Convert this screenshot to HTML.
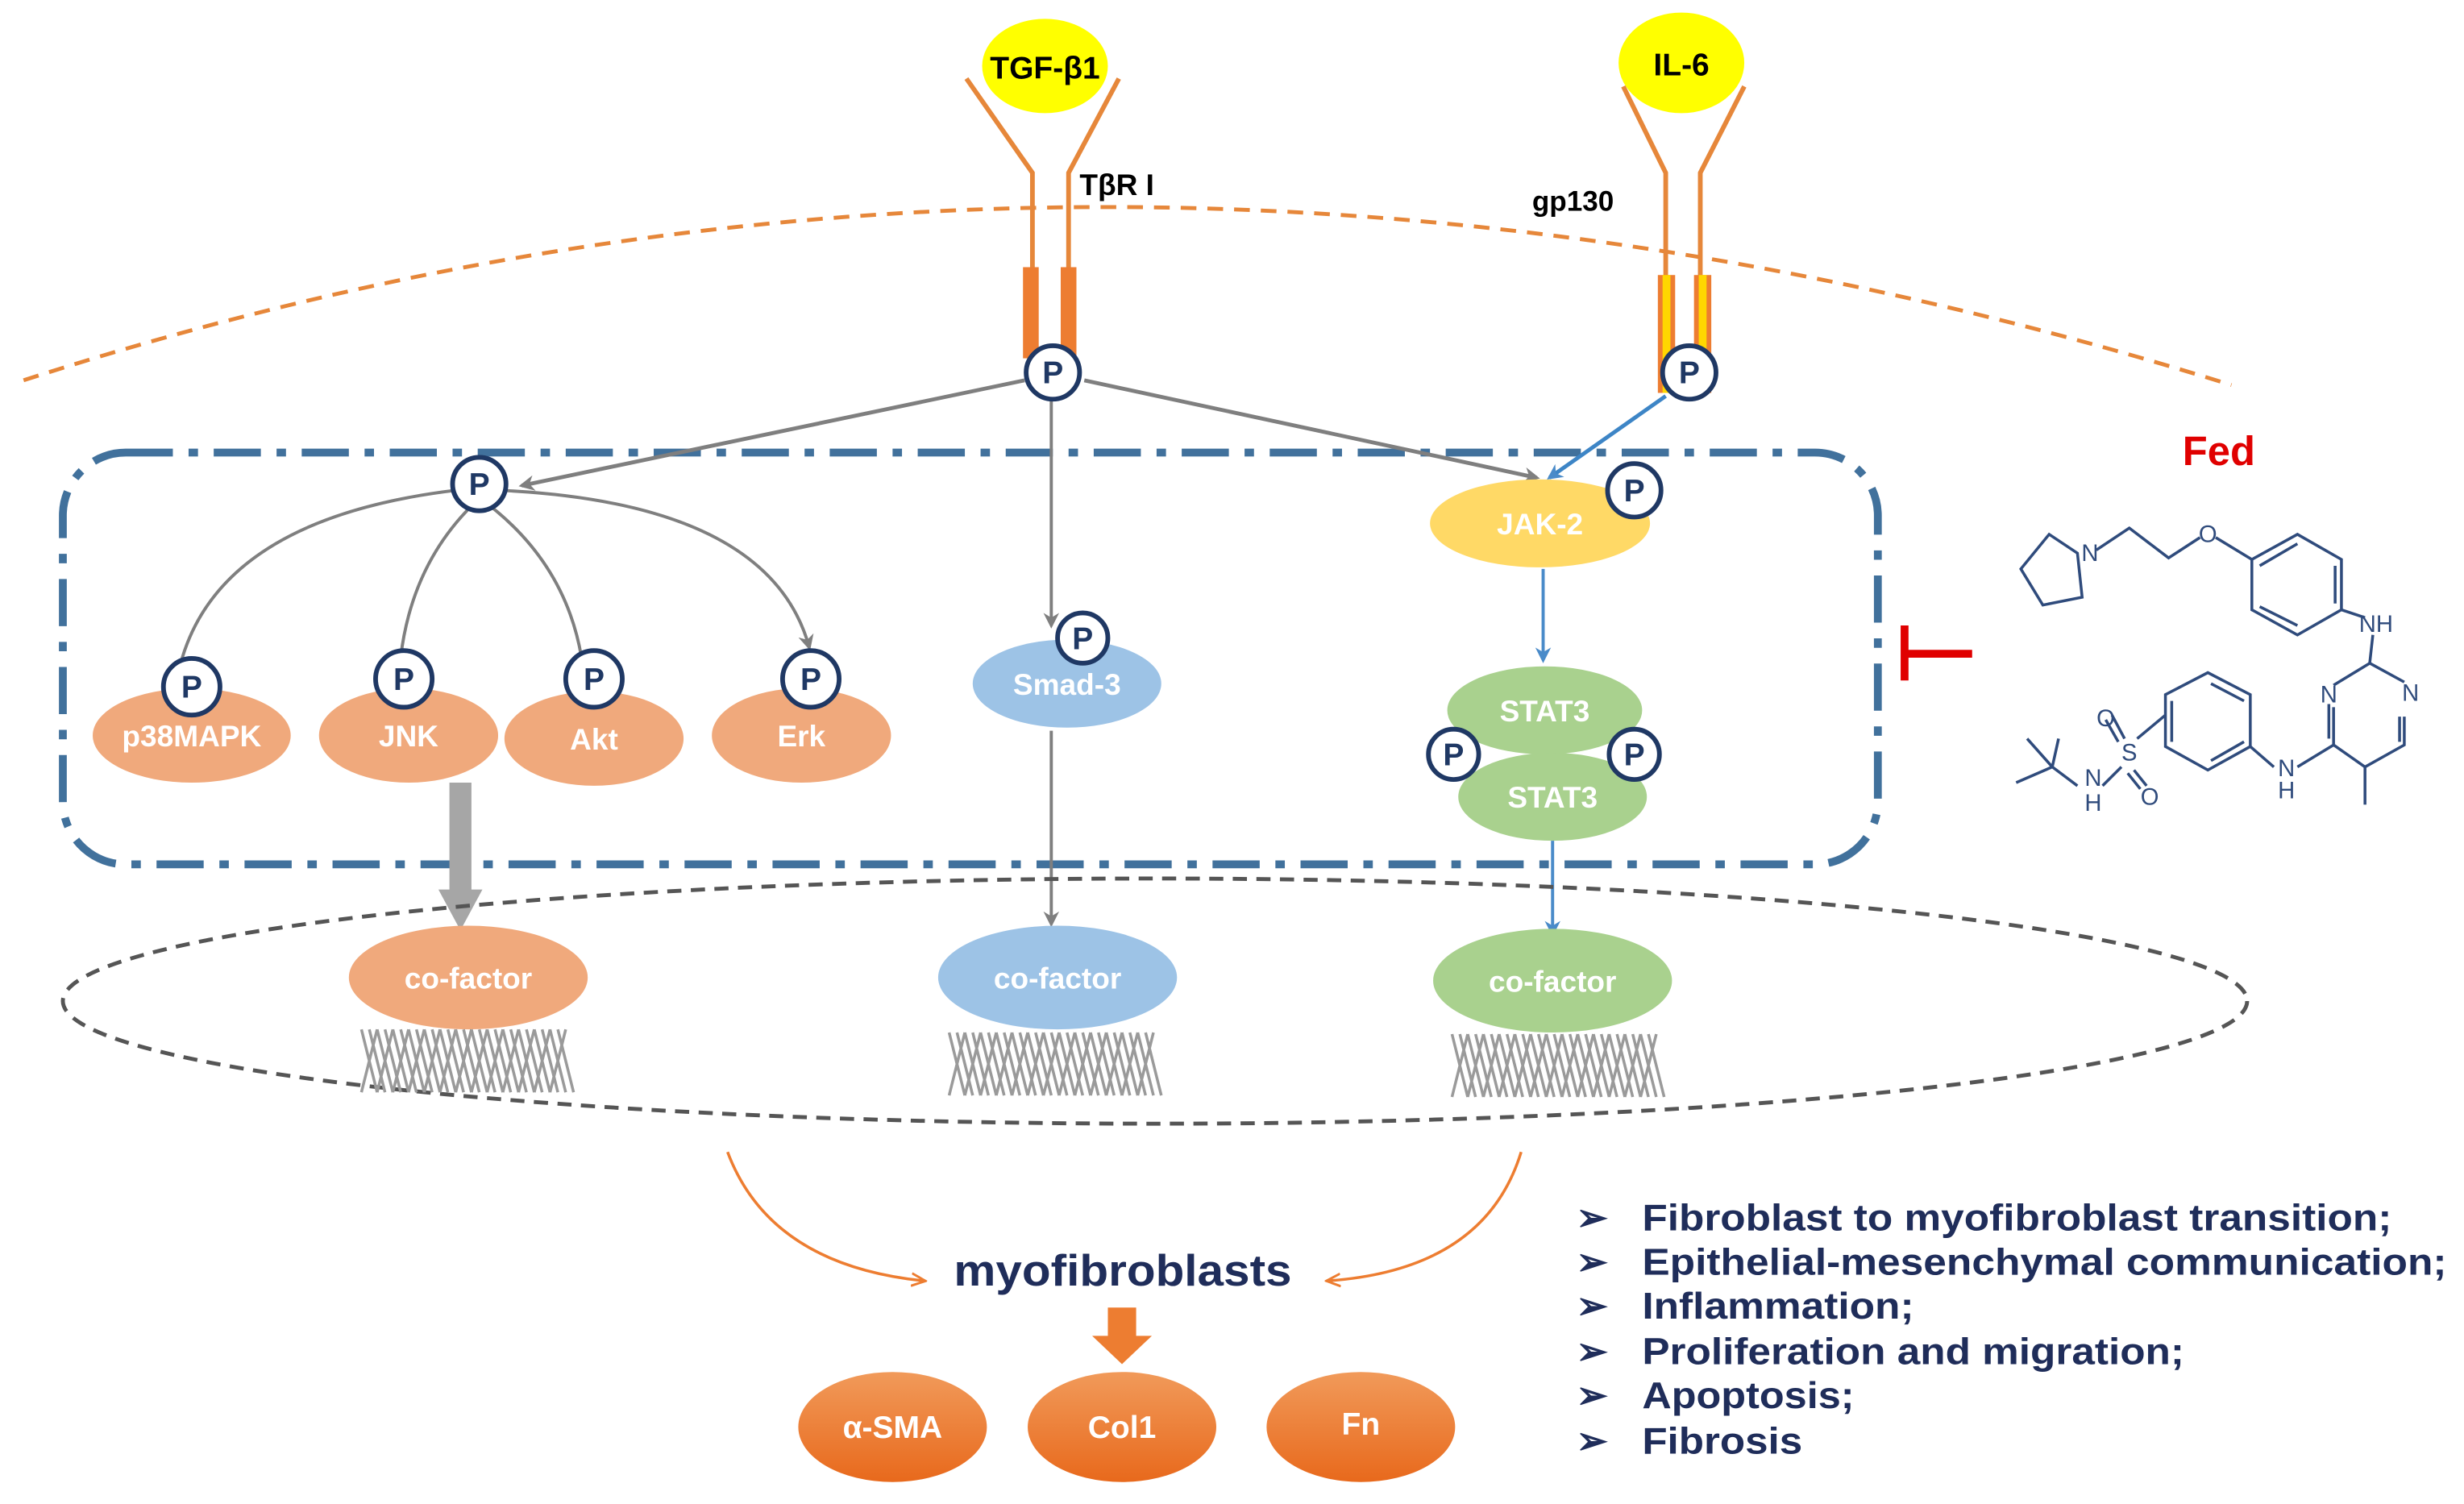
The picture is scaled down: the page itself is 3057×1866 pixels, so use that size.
<!DOCTYPE html>
<html><head><meta charset="utf-8"><style>
html,body{margin:0;padding:0;background:#fff;}
svg{display:block;}
text{font-family:"Liberation Sans",sans-serif;}
</style></head><body>
<svg width="3057" height="1866" viewBox="0 0 1568 957" preserveAspectRatio="none" xmlns="http://www.w3.org/2000/svg">
<defs>
<marker id="ag" markerWidth="10" markerHeight="10" refX="8" refY="5" orient="auto" markerUnits="userSpaceOnUse"><path d="M0,0 L10,5 L0,10 L3,5 z" fill="#7f7f7f"/></marker>
<marker id="ab" markerWidth="10" markerHeight="10" refX="8" refY="5" orient="auto" markerUnits="userSpaceOnUse"><path d="M0,0 L10,5 L0,10 L3,5 z" fill="#4a8bc9"/></marker>
<marker id="ao" markerWidth="10" markerHeight="10" refX="8" refY="5" orient="auto" markerUnits="userSpaceOnUse"><path d="M0,1 L9,5 L0,9" fill="none" stroke="#ed7d31" stroke-width="1.5"/></marker>
<linearGradient id="og" x1="0" y1="0" x2="0" y2="1"><stop offset="0" stop-color="#f19a5a"/><stop offset="1" stop-color="#e8691c"/></linearGradient>
<g id="dna"><path d="M0,0 q5,20 10,40 M5,0 q5,20 10,40 M10,0 q5,20 10,40 M15,0 q5,20 10,40 M20,0 q5,20 10,40 M25,0 q5,20 10,40 M30,0 q5,20 10,40 M35,0 q5,20 10,40 M40,0 q5,20 10,40 M45,0 q5,20 10,40 M50,0 q5,20 10,40 M55,0 q5,20 10,40 M60,0 q5,20 10,40 M65,0 q5,20 10,40 M70,0 q5,20 10,40 M75,0 q5,20 10,40 M80,0 q5,20 10,40 M85,0 q5,20 10,40 M90,0 q5,20 10,40 M95,0 q5,20 10,40 M100,0 q5,20 10,40 M105,0 q5,20 10,40 M110,0 q5,20 10,40 M115,0 q5,20 10,40 M120,0 q5,20 10,40 M125,0 q5,20 10,40 M10,0 q-5,20 -10,40 M20,0 q-5,20 -10,40 M30,0 q-5,20 -10,40 M40,0 q-5,20 -10,40 M50,0 q-5,20 -10,40 M60,0 q-5,20 -10,40 M70,0 q-5,20 -10,40 M80,0 q-5,20 -10,40 M90,0 q-5,20 -10,40 M100,0 q-5,20 -10,40 M110,0 q-5,20 -10,40 M120,0 q-5,20 -10,40 M130,0 q-5,20 -10,40" stroke="#9a9a9a" stroke-width="1.8" fill="none"/></g>
</defs>

<!-- membrane -->
<path d="M15,242 Q700,20 1420,245" fill="none" stroke="#e6873a" stroke-width="2.5" stroke-dasharray="10 7"/>

<!-- ligands -->
<ellipse cx="665" cy="42" rx="40" ry="30" fill="#ffff00"/>
<text x="665" y="50" font-size="20" font-weight="bold" text-anchor="middle">TGF-β1</text>
<ellipse cx="1070" cy="40" rx="40" ry="32" fill="#ffff00"/>
<text x="1070" y="48" font-size="20" font-weight="bold" text-anchor="middle">IL-6</text>

<!-- receptors -->
<g stroke="#e6873a" stroke-width="3" fill="none">
<path d="M615,50 L657,110 L657,230"/><path d="M712,50 L680,110 L680,230"/>
<path d="M1033,55 L1060,110 L1060,240"/><path d="M1110,55 L1082,110 L1082,240"/>
</g>
<rect x="651" y="170" width="10" height="58" fill="#ed7d31"/>
<rect x="675" y="170" width="10" height="58" fill="#ed7d31"/>
<rect x="1055" y="175" width="11" height="75" fill="#ed7d31"/>
<rect x="1058" y="175" width="5" height="75" fill="#ffd700"/>
<rect x="1078" y="175" width="11" height="75" fill="#ed7d31"/>
<rect x="1081" y="175" width="5" height="75" fill="#ffd700"/>
<text x="687" y="124" font-size="19" font-weight="bold">TβR I</text>
<text x="975" y="134" font-size="18" font-weight="bold">gp130</text>

<!-- cytoplasm box -->
<rect x="40" y="288" width="1155" height="262" rx="40" fill="none" stroke="#41719c" stroke-width="5" stroke-dasharray="30 10 6 10"/>

<!-- arrows from receptor -->
<line x1="652" y1="242" x2="332" y2="309" stroke="#7f7f7f" stroke-width="2.5" marker-end="url(#ag)"/>
<line x1="690" y1="242" x2="978" y2="304" stroke="#7f7f7f" stroke-width="2.5" marker-end="url(#ag)"/>
<line x1="669" y1="255" x2="669" y2="398" stroke="#7f7f7f" stroke-width="2" marker-end="url(#ag)"/>
<line x1="1060" y1="252" x2="986" y2="304" stroke="#3d85c6" stroke-width="2.5" marker-end="url(#ab)"/>

<!-- MAPK arcs -->
<g stroke="#7f7f7f" stroke-width="2" fill="none">
<path d="M290,312 Q140,330 115,422"/>
<path d="M300,322 Q262,360 255,418"/>
<path d="M312,322 Q360,360 370,418"/>
<path d="M318,312 Q490,320 515,412" marker-end="url(#ag)"/>
</g>

<!-- orange kinases -->
<g fill="#f0a97c">
<ellipse cx="122" cy="468" rx="63" ry="30"/>
<ellipse cx="260" cy="468" rx="57" ry="30"/>
<ellipse cx="378" cy="470" rx="57" ry="30"/>
<ellipse cx="510" cy="468" rx="57" ry="30"/>
</g>
<g fill="#fff" font-size="19" font-weight="bold" text-anchor="middle">
<text x="122" y="475">p38MAPK</text><text x="260" y="475">JNK</text><text x="378" y="477">Akt</text><text x="510" y="475">Erk</text>
</g>

<ellipse cx="679" cy="435" rx="60" ry="28" fill="#9dc3e6"/>
<text x="679" y="442" fill="#fff" font-size="19" font-weight="bold" text-anchor="middle">Smad-3</text>

<ellipse cx="980" cy="333" rx="70" ry="28" fill="#ffd966"/>
<text x="980" y="340" fill="#fff" font-size="19" font-weight="bold" text-anchor="middle">JAK-2</text>
<line x1="982" y1="362" x2="982" y2="420" stroke="#4a8bc9" stroke-width="2" marker-end="url(#ab)"/>

<ellipse cx="983" cy="452" rx="62" ry="28" fill="#a9d18e"/>
<ellipse cx="988" cy="507" rx="60" ry="28" fill="#a9d18e"/>
<text x="983" y="459" fill="#fff" font-size="19" font-weight="bold" text-anchor="middle">STAT3</text>
<text x="988" y="514" fill="#fff" font-size="19" font-weight="bold" text-anchor="middle">STAT3</text>

<!-- P circles -->
<g fill="#fff" stroke="#1f3864" stroke-width="3">
<circle cx="670" cy="237" r="17"/><circle cx="1075" cy="237" r="17"/>
<circle cx="305" cy="308" r="17"/><circle cx="1040" cy="312" r="17"/>
<circle cx="122" cy="437" r="18"/><circle cx="257" cy="432" r="18"/>
<circle cx="378" cy="432" r="18"/><circle cx="516" cy="432" r="18"/>
<circle cx="689" cy="406" r="16"/><circle cx="925" cy="480" r="16"/><circle cx="1040" cy="480" r="16"/>
</g>
<g fill="#1f3864" font-size="20" font-weight="bold" text-anchor="middle">
<text x="670" y="244">P</text><text x="1075" y="244">P</text><text x="305" y="315">P</text><text x="1040" y="319">P</text>
<text x="122" y="444">P</text><text x="257" y="439">P</text><text x="378" y="439">P</text><text x="516" y="439">P</text>
<text x="689" y="413">P</text><text x="925" y="487">P</text><text x="1040" y="487">P</text>
</g>

<!-- to nucleus -->
<line x1="293" y1="498" x2="293" y2="568" stroke="#a6a6a6" stroke-width="14"/>
<path d="M279,566 L307,566 L293,592 z" fill="#a6a6a6"/>
<line x1="669" y1="465" x2="669" y2="588" stroke="#7f7f7f" stroke-width="2" marker-end="url(#ag)"/>
<line x1="988" y1="535" x2="988" y2="594" stroke="#4a8bc9" stroke-width="2" marker-end="url(#ab)"/>

<!-- nucleus -->
<ellipse cx="735" cy="637" rx="695" ry="78" fill="none" stroke="#555" stroke-width="2.5" stroke-dasharray="9 6"/>

<ellipse cx="298" cy="622" rx="76" ry="33" fill="#f0a97c"/>
<ellipse cx="673" cy="622" rx="76" ry="33" fill="#9dc3e6"/>
<ellipse cx="988" cy="624" rx="76" ry="33" fill="#a9d18e"/>
<g fill="#fff" font-size="19" font-weight="bold" text-anchor="middle">
<text x="298" y="629">co-factor</text><text x="673" y="629">co-factor</text><text x="988" y="631">co-factor</text>
</g>
<use href="#dna" x="230" y="655"/>
<use href="#dna" x="604" y="657"/>
<use href="#dna" x="924" y="658"/>

<!-- to myofibroblasts -->
<path d="M463,733 Q490,805 588,815" fill="none" stroke="#ed7d31" stroke-width="1.8" marker-end="url(#ao)"/>
<path d="M968,733 Q945,808 845,815" fill="none" stroke="#ed7d31" stroke-width="1.8" marker-end="url(#ao)"/>
<text x="607" y="818" font-size="28" font-weight="bold" fill="#1f2d5a" textLength="215" lengthAdjust="spacingAndGlyphs">myofibroblasts</text>
<rect x="705" y="832" width="18" height="20" fill="#ed7d31"/>
<path d="M695,850 L733,850 L714,868 z" fill="#ed7d31"/>

<ellipse cx="568" cy="908" rx="60" ry="35" fill="url(#og)"/>
<ellipse cx="714" cy="908" rx="60" ry="35" fill="url(#og)"/>
<ellipse cx="866" cy="908" rx="60" ry="35" fill="url(#og)"/>
<g fill="#fff" font-size="20" font-weight="bold" text-anchor="middle">
<text x="568" y="915">α-SMA</text><text x="714" y="915">Col1</text><text x="866" y="913">Fn</text>
</g>

<!-- bullets -->
<g fill="#1f2d5a" font-size="24" font-weight="bold" lengthAdjust="spacingAndGlyphs">
<text x="1003" y="783">➢</text><text x="1045" y="783" textLength="477" lengthAdjust="spacingAndGlyphs">Fibroblast to myofibroblast transition;</text>
<text x="1003" y="811">➢</text><text x="1045" y="811" textLength="512" lengthAdjust="spacingAndGlyphs">Epithelial-mesenchymal communication;</text>
<text x="1003" y="839">➢</text><text x="1045" y="839" textLength="173" lengthAdjust="spacingAndGlyphs">Inflammation;</text>
<text x="1003" y="868">➢</text><text x="1045" y="868" textLength="345" lengthAdjust="spacingAndGlyphs">Proliferation and migration;</text>
<text x="1003" y="896">➢</text><text x="1045" y="896" textLength="135" lengthAdjust="spacingAndGlyphs">Apoptosis;</text>
<text x="1003" y="925">➢</text><text x="1045" y="925" textLength="102" lengthAdjust="spacingAndGlyphs">Fibrosis</text>
</g>

<!-- Fed -->
<text x="1412" y="296" font-family="Liberation Serif,serif" font-size="26" font-weight="bold" fill="#e00000" text-anchor="middle">Fed</text>
<line x1="1212" y1="398" x2="1212" y2="433" stroke="#e00000" stroke-width="5"/>
<line x1="1212" y1="416" x2="1255" y2="416" stroke="#e00000" stroke-width="5"/>

<!-- structure -->
<g stroke="#2f4b7c" stroke-width="1.8" fill="none">
<path d="M1322,352 L1304,340 L1286,362 L1300,385 L1325,380 Z"/>
<path d="M1334,350 L1355,336 L1380,355 L1400,342"/>
<path d="M1410,342 L1433,356"/>
<path d="M1433,356 L1462,340 L1490,356 L1490,388 L1462,404 L1433,388 Z"/>
<path d="M1438,386 L1462,398 M1486,360 L1486,384 M1438,360 L1462,346"/>
<path d="M1490,388 L1505,393"/>
<path d="M1510,404 L1508,422"/>
<path d="M1508,422 L1530,434 M1508,422 L1485,436 M1485,450 L1485,474 L1505,488 L1530,474 L1530,456 M1482,448 L1482,470 M1527,456 L1527,472"/>
<path d="M1505,488 L1505,512"/>
<path d="M1485,474 L1462,488"/>
<path d="M1447,488 L1432,475"/>
<path d="M1432,475 L1432,442 L1405,428 L1378,442 L1378,475 L1405,490 Z"/>
<path d="M1407,435 L1428,446 M1382,446 L1382,472 M1407,484 L1428,472"/>
<path d="M1378,455 L1360,470"/>
<path d="M1352,470 L1344,455 M1348,472 L1340,458 M1358,490 L1366,500 M1354,492 L1362,502"/>
<path d="M1350,488 L1338,500"/>
<path d="M1322,500 L1306,488 L1283,498 M1306,488 L1290,470 M1306,488 L1310,470"/>
</g>
<g fill="#2f4b7c" font-size="15" text-anchor="middle">
<text x="1330" y="357">N</text><text x="1405" y="345">O</text>
<text x="1512" y="402">NH</text>
<text x="1482" y="447">N</text><text x="1534" y="446">N</text>
<text x="1455" y="494">N</text><text x="1455" y="508">H</text>
<text x="1355" y="484">S</text><text x="1340" y="462">O</text><text x="1368" y="512">O</text>
<text x="1332" y="500">N</text><text x="1332" y="516">H</text>
</g>
</svg>
</body></html>
